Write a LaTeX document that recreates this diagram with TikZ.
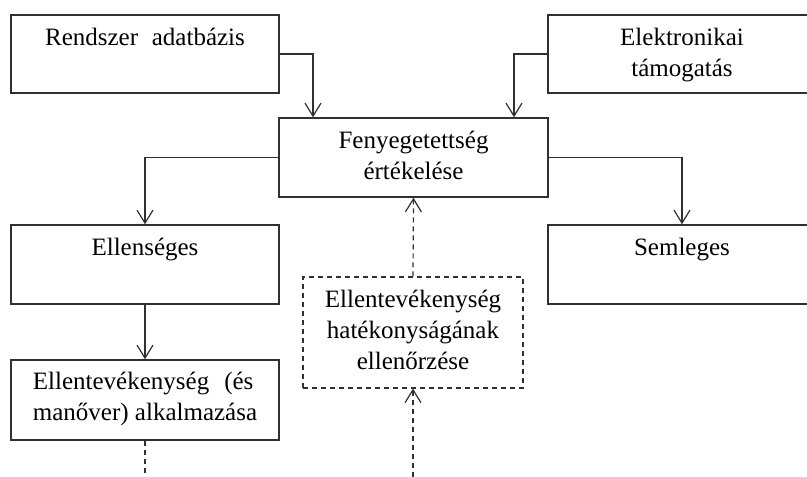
\documentclass[tikz,border=0pt]{standalone}
\usepackage{fontspec}
\setmainfont{Liberation Serif}
\usetikzlibrary{arrows.meta}
\definecolor{linecol}{HTML}{303030}
\newsavebox\jbox
\tikzset{
 box/.style={draw=linecol, line width=1.5pt, rectangle, inner sep=0pt},
 dbox/.style={box, line width=1.2pt, dash pattern=on 5pt off 4pt},
 txt/.style={anchor=base, inner sep=0pt, font=\fontsize{25}{31}\selectfont, text=black},
 conn/.style={draw=linecol, line width=1.2pt, -{Straight Barb[length=13pt,width=16pt]}},
 dconn/.style={conn, dash pattern=on 5pt off 4pt},
 dline/.style={draw=linecol, line width=1.2pt, dash pattern=on 5pt off 4pt},
}
\begin{document}
\begin{tikzpicture}[x=1pt,y=1pt]
\useasboundingbox (0,0) rectangle (807,477);
\clip (0,0) rectangle (807,477);
% boxes
\node[box, minimum width=268pt, minimum height=78pt] (A) at (145,423) {};
\node[box, minimum width=268pt, minimum height=78pt] (B) at (682,423) {};
\node[box, minimum width=269pt, minimum height=79pt] (C) at (413.5,319.5) {};
\node[box, minimum width=268pt, minimum height=79pt] (D) at (145,212.5) {};
\node[box, minimum width=268pt, minimum height=79pt] (E) at (682,212.5) {};
\node[dbox, minimum width=220pt, minimum height=111pt] (F) at (413,144.5) {};
\node[box, minimum width=268pt, minimum height=80pt] (G) at (145,77) {};
% texts
\node[txt] (At) at ([yshift=-31pt]A.north) {Rendszer\hspace{0.3em} adatbázis};
\node[txt] (Bt) at ([yshift=-31pt]B.north) {\begin{tabular}[t]{@{}c@{}}Elektronikai\\támogatás\end{tabular}};
\node[txt] (Ct) at ([yshift=-31pt]C.north) {\begin{tabular}[t]{@{}c@{}}Fenyegetettség\\értékelése\end{tabular}};
\node[txt] (Dt) at ([yshift=-31pt]D.north) {Ellenséges};
\node[txt] (Et) at ([yshift=-31pt]E.north) {Semleges};
\node[txt] (Ft) at ([yshift=-31pt]F.north) {\begin{tabular}[t]{@{}c@{}}Ellentevékenység\\hatékonyságának\\ellenőrzése\end{tabular}};
\node[txt] (Gt) at ([yshift=-30pt]G.north) {\sbox\jbox{manőver) alkalmazása}\begin{tabular}[t]{@{}c@{}}\makebox[\wd\jbox][s]{Ellentevékenység\hspace{0.6em}(és}\\\usebox\jbox\end{tabular}};
% helper coordinates
\coordinate (ca) at (313,0);
\coordinate (cb) at (514,0);
\coordinate (gend) at (145,0);
\coordinate (fend) at (413,0);
% connectors
\draw[conn] (A.east) -| (C.north -| ca);
\draw[conn] (B.west) -| (C.north -| cb);
\draw[conn] (C.west) -| (D.north);
\draw[conn] (C.east) -| (E.north);
\draw[conn] (D.south) -- (G.north);
\draw[dline] (G.south) -- (gend);
\draw[dconn] (fend) -- (F.south);
\draw[dconn] (F.north) -- (C.south);
\end{tikzpicture}
\end{document}
